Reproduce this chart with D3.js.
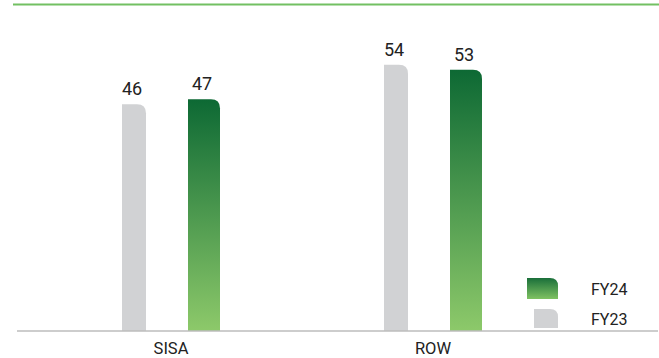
<!DOCTYPE html>
<html>
<head>
<meta charset="utf-8">
<script src="https://cdn.jsdelivr.net/npm/d3@7"></script>
<style>
  body { margin: 0; background: #fff; }
  text { font-family: Roboto, "DejaVu Sans", sans-serif; fill: #222; }
</style>
</head>
<body>
<div id="chart"></div>
<script>
// data
var categories = ["SISA", "ROW"];
var series = ["FY23", "FY24"];
var fy23 = [46, 54];
var fy24 = [47, 53];

var svgWidth = 659, svgHeight = 358;
var baseY = 331;

var svg = d3.select("#chart").append("svg")
  .attr("width", svgWidth)
  .attr("height", svgHeight);

var defs = svg.append("defs");
var grad = defs.append("linearGradient")
  .attr("id", "greenGrad")
  .attr("x1", 0).attr("y1", 0).attr("x2", 0).attr("y2", 1);
grad.append("stop").attr("offset", "0%").attr("stop-color", "#0d6934");
grad.append("stop").attr("offset", "100%").attr("stop-color", "#8dc96a");

var gradL = defs.append("linearGradient")
  .attr("id", "greenGradLegend")
  .attr("x1", 0).attr("y1", 0).attr("x2", 0).attr("y2", 1);
gradL.append("stop").attr("offset", "0%").attr("stop-color", "#1a6f3a");
gradL.append("stop").attr("offset", "100%").attr("stop-color", "#7fc262");

// scales
var x0 = d3.scaleBand().domain(categories).range([40, 564]).padding(0);
var x1 = d3.scalePoint().domain(series).range([-37, 33]);
var y = d3.scaleLinear().domain([0, 60]).range([baseY, baseY - 60 * 4.93]);

var widths = { FY23: 24, FY24: 32 };
var fills = { FY23: "#d1d2d4", FY24: "url(#greenGrad)" };

// bar with rounded top-right corner
function barPath(x, yTop, w, h, r) {
  r = Math.min(r, w / 2, h);
  return "M" + x + "," + (yTop + h) +
    "V" + yTop +
    "H" + (x + w - r) +
    "Q" + (x + w) + "," + yTop + " " + (x + w) + "," + (yTop + r) +
    "V" + (yTop + h) + "Z";
}

// top green rule
svg.append("line")
  .attr("x1", 13).attr("x2", 659)
  .attr("y1", 4.5).attr("y2", 4.5)
  .attr("stroke", "#72c062")
  .attr("stroke-width", 2);

var rows = [];
categories.forEach(function (c, i) {
  rows.push({ cat: c, s: "FY23", v: fy23[i] });
  rows.push({ cat: c, s: "FY24", v: fy24[i] });
});

function barX(d) {
  return x0(d.cat) + x0.bandwidth() / 2 + x1(d.s) - widths[d.s] / 2;
}

svg.selectAll(".bar")
  .data(rows)
  .enter()
  .append("path")
  .attr("class", "bar")
  .attr("d", function (d) {
    return barPath(barX(d), y(d.v), widths[d.s], baseY - y(d.v), 9);
  })
  .attr("fill", function (d) { return fills[d.s]; });

// value labels
svg.selectAll(".val")
  .data(rows)
  .enter()
  .append("text")
  .attr("class", "val")
  .attr("x", function (d) { return barX(d) + widths[d.s] / 2 - 2; })
  .attr("y", function (d) { return y(d.v) - 9; })
  .attr("text-anchor", "middle")
  .attr("font-size", 18)
  .attr("font-weight", 400)
  .text(function (d) { return d.v; });

// baseline
svg.append("line")
  .attr("x1", 17).attr("x2", 658)
  .attr("y1", baseY).attr("y2", baseY)
  .attr("stroke", "#bdbdbd")
  .attr("stroke-width", 1.5);

// category axis
var xAxis = d3.axisBottom(x0).tickSize(0).tickPadding(11);
var ax = svg.append("g")
  .attr("transform", "translate(0," + baseY + ")")
  .call(xAxis);
ax.select(".domain").remove();
ax.selectAll("text")
  .attr("font-size", 16.5)
  .attr("fill", "#222")
  .style("font-family", "Roboto, sans-serif");

// legend
var legend = [
  { s: "FY24", x: 527, y: 278, w: 31, h: 21, fill: "url(#greenGradLegend)" },
  { s: "FY23", x: 534, y: 309, w: 24, h: 19, fill: "#d1d2d4" }
];
var lg = svg.selectAll(".leg").data(legend).enter().append("g").attr("class", "leg");
lg.append("path")
  .attr("d", function (d) { return barPath(d.x, d.y, d.w, d.h, 8); })
  .attr("fill", function (d) { return d.fill; });
lg.append("text")
  .attr("x", 591)
  .attr("y", function (d) { return d.y + d.h / 2 + 6; })
  .attr("font-size", 16)
  .text(function (d) { return d.s; });
</script>
</body>
</html>
